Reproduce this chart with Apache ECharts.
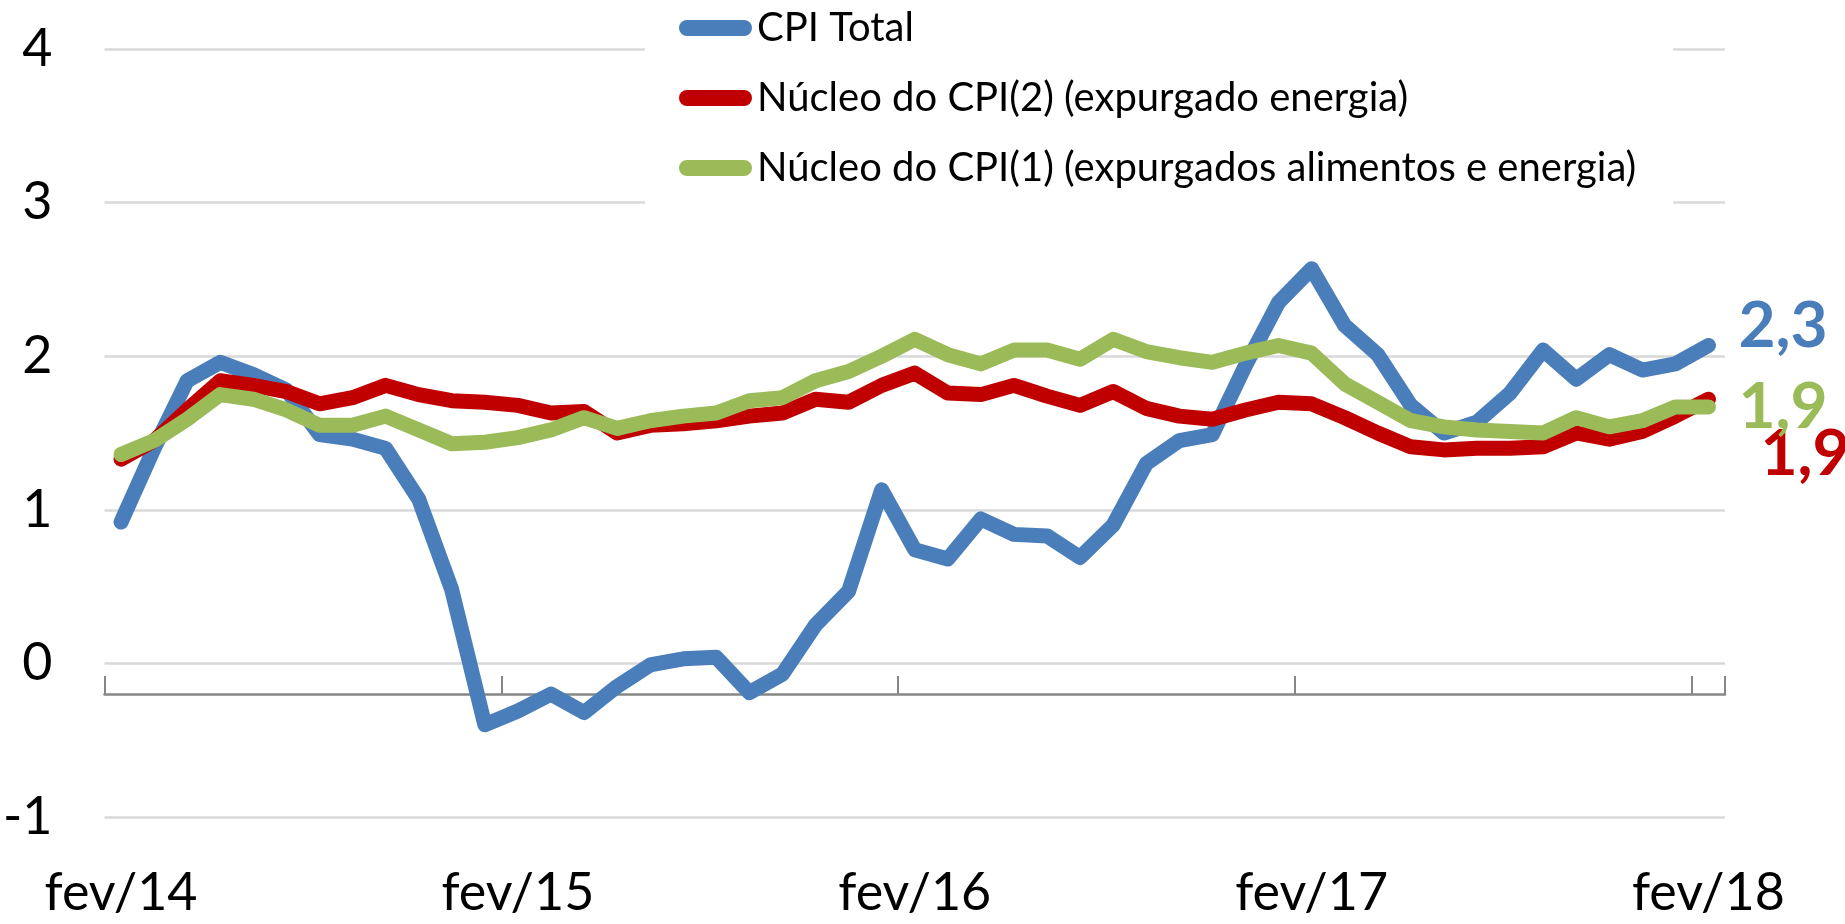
<!DOCTYPE html>
<html>
<head>
<meta charset="utf-8">
<script src="https://cdn.jsdelivr.net/npm/echarts@6/dist/echarts.min.js"></script>
<style>
  html, body { margin: 0; padding: 0; background: #fff; }
  #chart { width: 1845px; height: 924px; }
</style>
</head>
<body>
<div id="chart"></div>
<script>
// months, fev/14 .. fev/18
var months = [
  'fev/14', 'mar/14', 'abr/14', 'mai/14', 'jun/14', 'jul/14', 'ago/14', 'set/14', 'out/14', 'nov/14', 'dez/14', 'jan/15',
  'fev/15', 'mar/15', 'abr/15', 'mai/15', 'jun/15', 'jul/15', 'ago/15', 'set/15', 'out/15', 'nov/15', 'dez/15', 'jan/16',
  'fev/16', 'mar/16', 'abr/16', 'mai/16', 'jun/16', 'jul/16', 'ago/16', 'set/16', 'out/16', 'nov/16', 'dez/16', 'jan/17',
  'fev/17', 'mar/17', 'abr/17', 'mai/17', 'jun/17', 'jul/17', 'ago/17', 'set/17', 'out/17', 'nov/17', 'dez/17', 'jan/18',
  'fev/18'
];

var seriesNames = [
  'CPI Total',
  'Núcleo do CPI(2) (expurgado energia)',
  'Núcleo do CPI(1) (expurgados alimentos e energia)'
];

var cpiTotal = [
  0.92, 1.40, 1.84, 1.96, 1.88, 1.78, 1.49, 1.46, 1.40, 1.07, 0.48, -0.40,
  -0.31, -0.20, -0.32, -0.15, -0.01, 0.03, 0.04, -0.19, -0.07, 0.25, 0.47, 1.13,
  0.74, 0.68, 0.94, 0.84, 0.83, 0.69, 0.90, 1.30, 1.45, 1.49, 1.94, 2.35,
  2.57, 2.20, 2.01, 1.68, 1.50, 1.57, 1.76, 2.04, 1.85, 2.01, 1.91, 1.95,
  2.07
];

var nucleo2 = [
  1.33, 1.45, 1.65, 1.84, 1.81, 1.77, 1.69, 1.73, 1.81, 1.75, 1.71, 1.70,
  1.68, 1.63, 1.64, 1.50, 1.55, 1.56, 1.58, 1.61, 1.63, 1.72, 1.70, 1.81,
  1.89, 1.76, 1.75, 1.81, 1.74, 1.68, 1.77, 1.66, 1.61, 1.59, 1.65, 1.70,
  1.69, 1.60, 1.50, 1.41, 1.39, 1.40, 1.40, 1.41, 1.50, 1.46, 1.51, 1.61,
  1.72
];

var nucleo1 = [
  1.36, 1.45, 1.59, 1.75, 1.72, 1.65, 1.55, 1.55, 1.61, 1.52, 1.43, 1.44,
  1.47, 1.52, 1.60, 1.53, 1.58, 1.61, 1.63, 1.71, 1.73, 1.84, 1.90, 2.00,
  2.11, 2.01, 1.95, 2.04, 2.04, 1.98, 2.11, 2.03, 1.99, 1.96, 2.02, 2.07,
  2.02, 1.82, 1.70, 1.58, 1.54, 1.52, 1.51, 1.50, 1.60, 1.54, 1.58, 1.67,
  1.67
];

// texts written next to the line ends
var endTexts = ['2,3', '1,9', '1,9'];

var colors = ['#4A7EBB', '#C00000', '#9BBB59'];
var font = 'Lato, "Noto Sans", sans-serif';

function lineSeries(i, data, offset) {
  return {
    name: seriesNames[i],
    type: 'line',
    data: data,
    symbol: 'none',
    color: colors[i],
    lineStyle: { width: 15, color: colors[i], cap: 'round', join: 'round' },
    endLabel: {
      show: true,
      formatter: function () { return endTexts[i]; },
      color: colors[i],
      fontFamily: font,
      fontWeight: 'bold',
      fontSize: 64,
      distance: 30,
      offset: offset
    },
    animation: false
  };
}

var chart = echarts.init(document.getElementById('chart'));
chart.setOption({
  backgroundColor: '#fff',
  animation: false,
  grid: { left: 104, right: 120, top: 49, bottom: 107 },
  legend: {
    orient: 'vertical',
    left: 645,
    top: 0,
    padding: [8, 37, 20, 34],
    backgroundColor: '#fff',
    icon: 'path://M8,0 L65,0 A8,8 0 0 1 65,16 L8,16 A8,8 0 0 1 8,0 Z',
    itemWidth: 73,
    itemHeight: 17,
    itemGap: 30,
    textStyle: { fontFamily: font, fontSize: 40, lineHeight: 40, color: '#000' },
    data: seriesNames
  },
  xAxis: {
    type: 'category',
    data: months,
    boundaryGap: true,
    offset: -123,
    axisLine: { onZero: false, lineStyle: { color: '#868686', width: 2.5 } },
    axisTick: {
      show: true,
      inside: true,
      length: 18,
      interval: 11,
      lineStyle: { color: '#868686', width: 2 }
    },
    axisLabel: {
      interval: 11,
      margin: 173,
      fontFamily: font,
      fontSize: 52,
      lineHeight: 52,
      color: '#000'
    },
    splitLine: { show: false }
  },
  yAxis: {
    type: 'value',
    min: -1,
    max: 4,
    interval: 1,
    axisLine: { show: false },
    axisTick: { show: false },
    axisLabel: { margin: 52, fontFamily: font, fontSize: 52, color: '#000' },
    splitLine: { lineStyle: { color: '#D9D9D9', width: 2.5 } }
  },
  series: [
    lineSeries(0, cpiTotal, [0, -19]),
    lineSeries(1, nucleo2, [22, 55]),
    lineSeries(2, nucleo1, [0, 0])
  ]
});
</script>
</body>
</html>
